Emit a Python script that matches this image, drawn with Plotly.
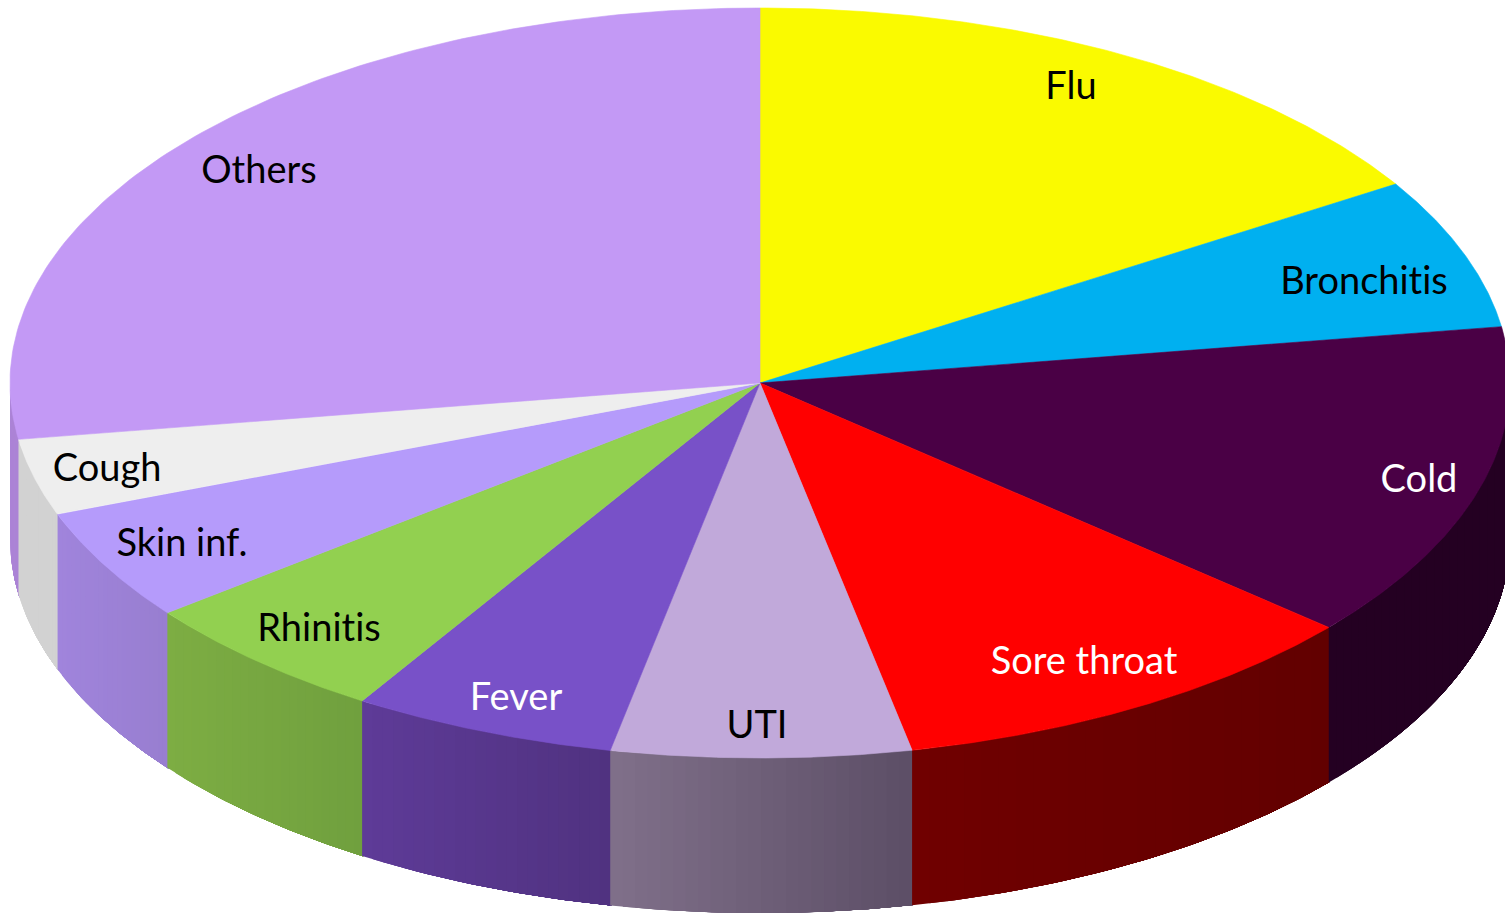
import numpy as np
import plotly.graph_objects as go

categories = ["Flu", "Bronchitis", "Cold", "Sore throat", "UTI", "Fever", "Rhinitis", "Skin inf.", "Cough", "Others"]
values = [16.1, 6.5, 13.7, 10.45, 6.45, 5.7, 5.6, 4.8, 3.3, 27.4]
top_colors = ["#FAFA00", "#00B0F0", "#4A0045", "#FF0000", "#C1A9DA", "#7851C8", "#92D050", "#B59BFB", "#EEEEEE", "#C399F5"]
side_from = [(200, 200, 0), (0, 130, 180), (36, 0, 34), (112, 0, 0), (128, 112, 138), (94, 59, 152), (125, 173, 67), (160, 132, 220), (210, 210, 210), (172, 132, 214)]
side_to = [(200, 200, 0), (0, 130, 180), (36, 0, 34), (98, 0, 0), (92, 78, 102), (80, 50, 128), (112, 160, 62), (152, 126, 208), (210, 210, 210), (172, 132, 214)]
label_colors = ["black", "black", "white", "white", "black", "white", "black", "black", "black", "black"]
label_x = [1071, 1364, 1419, 1084, 757, 516, 319, 182, 107, 259]
label_y = [89, 284, 482, 664, 728, 700, 631, 546, 471, 173]

CX, CY, RX, RY, DEPTH = 760, 383, 750, 375, 155

fractions = np.array(values) / sum(values)
edges = np.concatenate([[0], np.cumsum(fractions)]) * 2 * np.pi


def ex(t):
    return CX + RX * np.sin(t)


def ey(t):
    return CY - RY * np.cos(t)


fig = go.Figure()


def poly(x, y, color, width=0.6):
    fig.add_trace(go.Scatter(x=x, y=y, mode="lines", fill="toself", fillcolor=color,
                             line=dict(color=color, width=width), hoverinfo="skip", showlegend=False))


# Visible outer wall: painted left to right, each strip reaching under the next one
for i in reversed(range(len(values))):
    a, b = max(edges[i], np.pi / 2), min(edges[i + 1], 3 * np.pi / 2)
    if b <= a:
        continue
    xa, xb = sorted([ex(a), ex(b)])
    n = 24
    xs = np.linspace(xa, xb, n + 1)
    c0, c1 = np.array(side_from[i]), np.array(side_to[i])
    for k in range(n):
        s = (k + 0.5) / n
        c = (c0 + (c1 - c0) * s).round().astype(int)
        color = f"rgb({c[0]},{c[1]},{c[2]})"
        u = np.linspace(xs[k], min(xb + 1, CX + RX), 80)
        lower = CY + RY * np.sqrt(np.clip(1 - ((u - CX) / RX) ** 2, 0, 1))
        poly(np.concatenate([u, u[::-1]]),
             np.concatenate([lower, (lower + DEPTH)[::-1]]), color, width=0)

# Top face
for i in range(len(values)):
    t = np.linspace(edges[i], edges[i + 1], 120)
    poly(np.concatenate([[CX], ex(t), [CX]]), np.concatenate([[CY], ey(t), [CY]]), top_colors[i])

fig.add_trace(go.Scatter(x=label_x, y=label_y, mode="text", text=categories,
                         textposition="middle center",
                         textfont=dict(family="Lato, Carlito, sans-serif", size=38, color=label_colors),
                         hoverinfo="skip", showlegend=False))

fig.update_layout(
    width=1505, height=913, margin=dict(l=0, r=0, t=0, b=0),
    paper_bgcolor="white", plot_bgcolor="white",
    xaxis=dict(range=[0, 1505], visible=False, fixedrange=True),
    yaxis=dict(range=[913, 0], visible=False, fixedrange=True),
)
page_css = (
    "document.body.style.margin='0';document.body.style.overflow='hidden';"
    "var s=document.createElement('style');"
    "s.textContent='svg text{font-variant-ligatures:none !important}';"
    "document.head.appendChild(s);"
)
fig.write_html("out.html", config=dict(displayModeBar=False), post_script=page_css)
